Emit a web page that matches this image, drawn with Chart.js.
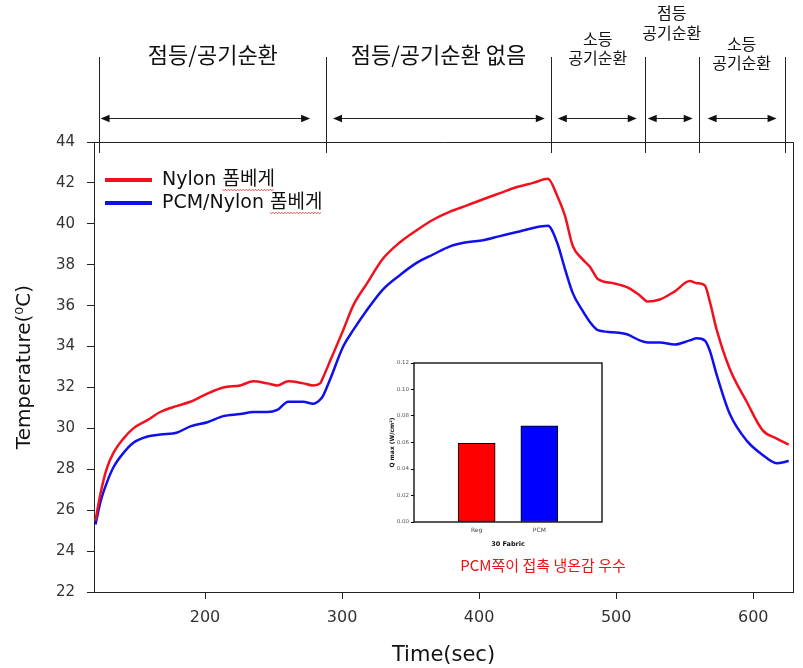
<!DOCTYPE html>
<html><head><meta charset="utf-8">
<script src="https://cdn.jsdelivr.net/npm/chart.js@4.4.1/dist/chart.umd.min.js"></script>
<style>
html,body{margin:0;padding:0;background:#fff;}
#wrap{position:relative;width:803px;height:668px;overflow:hidden;}
#main{position:absolute;left:0;top:0;}
#inset{position:absolute;left:380px;top:355px;}
</style></head><body>
<div id="wrap">
<canvas id="main" width="803" height="668"></canvas>
<canvas id="inset" width="240" height="195"></canvas>
</div>
<script>
// ---- data ----
const timeSec = [120.1,123.7,128.1,133.2,140.5,147.7,157.9,167.4,179.8,189.3,
  201.7,213.3,225.7,235.2,245.4,252.7,260.7,271.6,278.9,284.0,
  286.2,291.3,300.8,308.1,318.3,329.9,342.3,354.7,366.4,378.8,
  391.2,402.9,415.2,427.6,439.3,450.2,456.8,462.6,468.4,475.0,
  480.8,486.6,497.6,507.8,517.2,523.1,531.8,542.8,553.7,558.8,
  564.6,568.3,573.4,582.9,595.2,606.9,617.1,625.9];
const nylonTemp = [25.5,26.8,28.0,28.8,29.5,30.0,30.4,30.8,31.1,31.3,
  31.7,32.0,32.1,32.3,32.2,32.1,32.3,32.2,32.1,32.2,
  32.5,33.3,34.8,36.0,37.1,38.3,39.1,39.7,40.2,40.6,
  40.9,41.2,41.5,41.8,42.0,42.2,41.4,40.4,38.9,38.3,
  37.9,37.3,37.1,36.9,36.5,36.2,36.3,36.7,37.2,37.1,
  37.0,36.2,34.8,32.9,31.3,29.9,29.5,29.2];
const pcmTemp = [25.3,26.4,27.3,28.1,28.8,29.3,29.6,29.7,29.8,30.1,
  30.3,30.6,30.7,30.8,30.8,30.9,31.3,31.3,31.2,31.4,
  31.6,32.4,34.0,34.8,35.8,36.8,37.5,38.1,38.5,38.9,
  39.1,39.2,39.4,39.6,39.8,39.9,39.1,37.8,36.6,35.8,
  35.2,34.8,34.7,34.6,34.3,34.2,34.2,34.1,34.3,34.4,
  34.3,33.8,32.6,30.7,29.4,28.7,28.3,28.4];
const seriesNames = ['Nylon 폼베게', 'PCM/Nylon 폼베게'];
const xTickValues = [200, 300, 400, 500, 600];
const yTickValues = [22, 24, 26, 28, 30, 32, 34, 36, 38, 40, 42, 44];
const sectionBounds = [123.0, 288.4, 452.3, 520.8, 560.2, 622.8];
const sectionLabels = [['점등/공기순환'], ['점등/공기순환 없음'], ['소등', '공기순환'], ['점등', '공기순환'], ['소등', '공기순환']];
const arrowSpans = [[123.8, 276.7], [293.4, 447.9], [457.4, 515.0], [523.0, 555.8], [566.7, 617.0]];
const noteText = 'PCM쪽이 접촉 냉온감 우수';
const insetCategories = ['Reg', 'PCM'];
const insetValues = [0.0594, 0.0725];
const insetYTicks = [0, 0.02, 0.04, 0.06, 0.08, 0.10, 0.12];

// ---- styles / layout ----
const LAT = "'DejaVu Sans', 'Noto Sans CJK KR', sans-serif";
const KOR = "'Noto Sans CJK KR', 'DejaVu Sans', sans-serif";
const RED = 'rgb(242,16,30)';
const BLUE = 'rgb(16,16,235)';
const labelLineY = [[55], [55], [39, 58], [13, 33], [44, 63]];
const labelSize = [22, 22, 16, 16, 16];

const decor = {
  id: 'decor',
  afterDraw(chart) {
    const ctx = chart.ctx, a = chart.chartArea, xs = chart.scales.x;
    ctx.save();
    ctx.strokeStyle = '#222'; ctx.fillStyle = '#111'; ctx.lineWidth = 1;
    // frame top/right
    ctx.beginPath();
    ctx.moveTo(a.left, a.top + 0.5); ctx.lineTo(a.right + 0.5, a.top + 0.5); ctx.lineTo(a.right + 0.5, a.bottom);
    ctx.stroke();
    // section boundary lines
    sectionBounds.forEach(b => {
      const x = Math.round(xs.getPixelForValue(b)) + 0.5;
      ctx.beginPath(); ctx.moveTo(x, 57); ctx.lineTo(x, a.top + 11); ctx.stroke();
    });
    // arrows
    const ay = 118.5;
    arrowSpans.forEach(([t1, t2]) => {
      const x1 = xs.getPixelForValue(t1), x2 = xs.getPixelForValue(t2);
      ctx.beginPath(); ctx.moveTo(x1 + 3, ay); ctx.lineTo(x2 - 3, ay); ctx.stroke();
      [[x1, 1], [x2, -1]].forEach(([x, d]) => {
        ctx.beginPath(); ctx.moveTo(x, ay); ctx.lineTo(x + d * 9, ay - 3.7); ctx.lineTo(x + d * 9, ay + 3.7); ctx.closePath(); ctx.fill();
      });
    });
    // section labels
    ctx.textAlign = 'center'; ctx.textBaseline = 'middle'; ctx.fillStyle = '#111';
    sectionLabels.forEach((lines, i) => {
      const cx = (xs.getPixelForValue(sectionBounds[i]) + xs.getPixelForValue(sectionBounds[i + 1])) / 2;
      ctx.font = labelSize[i] + 'px ' + KOR;
      lines.forEach((s, j) => ctx.fillText(s, cx, labelLineY[i][j]));
    });
    // legend
    const ds = chart.data.datasets;
    const ly = [180, 203];
    ctx.textAlign = 'left';
    ctx.font = '19px ' + LAT;
    ds.forEach((d, i) => {
      ctx.strokeStyle = d.borderColor; ctx.lineWidth = 4;
      ctx.beginPath(); ctx.moveTo(105, ly[i]); ctx.lineTo(152, ly[i]); ctx.stroke();
      ctx.fillStyle = '#111';
      ctx.fillText(d.label, 162, ly[i]);
      // spell-check squiggle under Korean word
      const k = d.label.indexOf('폼');
      const sx = 162 + ctx.measureText(d.label.slice(0, k)).width;
      const ex = 162 + ctx.measureText(d.label).width;
      ctx.strokeStyle = 'rgb(220,40,40)'; ctx.lineWidth = 0.8;
      ctx.beginPath();
      for (let x = sx, n = 0; x <= ex; x += 1.5, n++) {
        const y = ly[i] + 10 + (n % 2 ? 0.8 : -0.8);
        if (n === 0) ctx.moveTo(x, y); else ctx.lineTo(x, y);
      }
      ctx.stroke();
    });
    // note text
    ctx.fillStyle = 'rgb(235,20,20)';
    ctx.textAlign = 'center';
    ctx.font = '15px ' + KOR;
    ctx.fillText(noteText, 543, 565);
    ctx.restore();
  }
};

const toPts = arr => timeSec.map((t, i) => ({ x: t, y: arr[i] }));

new Chart(document.getElementById('main'), {
  type: 'line',
  data: {
    datasets: [
      { label: seriesNames[0], data: toPts(nylonTemp), borderColor: RED, borderWidth: 2.5, pointRadius: 0, cubicInterpolationMode: 'monotone', fill: false },
      { label: seriesNames[1], data: toPts(pcmTemp), borderColor: BLUE, borderWidth: 2.5, pointRadius: 0, cubicInterpolationMode: 'monotone', fill: false }
    ]
  },
  options: {
    responsive: false, animation: false, devicePixelRatio: 1,
    layout: { padding: { left: 0, top: 142, right: 10, bottom: 0 } },
    plugins: { legend: { display: false }, tooltip: { enabled: false } },
    scales: {
      x: {
        type: 'linear', min: 119, max: 629,
        afterBuildTicks: s => { s.ticks = xTickValues.map(v => ({ value: v })); },
        afterFit: s => { s.height = 76; },
        grid: { display: true, drawOnChartArea: false, drawTicks: true, tickLength: 7, color: '#222', lineWidth: 1 },
        border: { display: true, color: '#222', width: 1 },
        ticks: { font: { family: LAT, size: 16 }, color: '#333', padding: 9, maxRotation: 0, autoSkip: false },
        title: { display: true, text: 'Time(sec)', font: { family: LAT, size: 21 }, color: '#111', padding: { top: 0, bottom: 0 } }
      },
      y: {
        min: 22, max: 44,
        afterBuildTicks: s => { s.ticks = yTickValues.map(v => ({ value: v })); },
        afterFit: s => { s.width = 94; },
        grid: { display: true, drawOnChartArea: false, drawTicks: true, tickLength: 7, color: '#222', lineWidth: 1 },
        border: { display: true, color: '#222', width: 1 },
        ticks: { font: { family: LAT, size: 15 }, color: '#333', padding: 12, autoSkip: false },
        title: { display: true, text: 'Temperature(⁰C)', font: { family: LAT, size: 20 }, color: '#111', padding: { top: 13, bottom: 0 } }
      }
    }
  },
  plugins: [decor]
});

// ---- inset bar chart ----
const insetFrame = {
  id: 'insetFrame',
  afterDraw(chart) {
    const ctx = chart.ctx, a = chart.chartArea;
    ctx.save(); ctx.strokeStyle = '#000'; ctx.lineWidth = 1.3;
    ctx.strokeRect(a.left, a.top, a.right - a.left, a.bottom - a.top);
    ctx.restore();
  }
};
new Chart(document.getElementById('inset'), {
  type: 'bar',
  data: {
    labels: ['', ...insetCategories, ''],
    datasets: [{
      data: [null, ...insetValues, null],
      backgroundColor: ['rgba(0,0,0,0)', 'rgb(255,0,0)', 'rgb(0,0,255)', 'rgba(0,0,0,0)'],
      borderColor: '#000', borderWidth: 1, barThickness: 37, borderSkipped: false
    }]
  },
  options: {
    responsive: false, animation: false, devicePixelRatio: 1,
    layout: { padding: { left: 0, top: 8, right: 18, bottom: 0 } },
    plugins: { legend: { display: false }, tooltip: { enabled: false } },
    scales: {
      x: {
        type: 'category', offset: false,
        afterFit: s => { s.height = 28; },
        grid: { display: false, drawTicks: false, tickLength: 0 },
        border: { display: false },
        ticks: { font: { family: LAT, size: 6 }, color: '#444', padding: 5, maxRotation: 0, autoSkip: false },
        title: { display: true, text: '30 Fabric', font: { family: LAT, size: 6.5, weight: 'bold' }, color: '#111', padding: { top: 0, bottom: 2 } }
      },
      y: {
        min: 0, max: 0.12,
        afterBuildTicks: s => { s.ticks = insetYTicks.map(v => ({ value: v })); },
        afterFit: s => { s.width = 34; },
        grid: { display: true, drawOnChartArea: false, drawTicks: true, tickLength: 3, color: '#000', lineWidth: 1 },
        border: { display: false },
        ticks: { font: { family: LAT, size: 5.5 }, color: '#555', padding: 2, callback: v => v.toFixed(2), autoSkip: false },
        title: { display: true, text: 'Q max (W/cm²)', font: { family: LAT, size: 6, weight: 'bold' }, color: '#111', padding: { top: 9, bottom: 0 } }
      }
    }
  },
  plugins: [insetFrame]
});
</script>
</body></html>
